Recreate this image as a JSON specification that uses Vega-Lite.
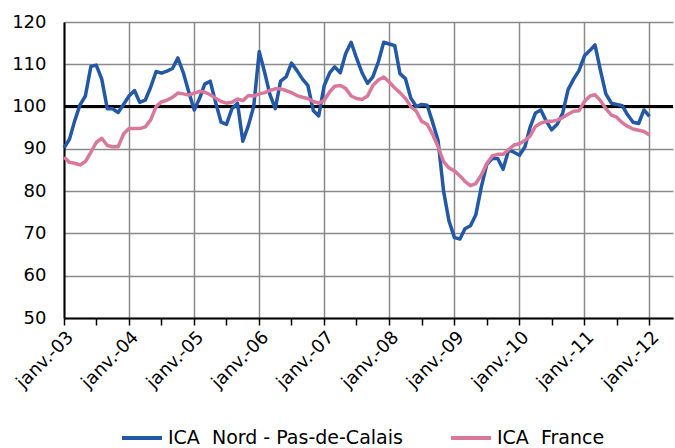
{
  "$schema": "https://vega.github.io/schema/vega-lite/v6.json",
  "width": 609,
  "height": 296,
  "autosize": {"type": "none"},
  "padding": {"left": 64, "top": 22, "right": 2, "bottom": 130},
  "config": {
    "view": {"stroke": null},
    "font": "DejaVu Sans",
    "axisY": {"grid": true, "gridColor": "#8a8a8a", "gridWidth": 1.5, "ticks": false, "labelPadding": 18, "labelFontSize": 18, "labelColor": "#000000", "domainColor": "#000000", "domainWidth": 2}
  },
  "datasets": {
    "ica": [
      {"d":"2003-01-01","nord":90.2,"france":88.0},{"d":"2003-02-01","nord":92.3,"france":86.8},{"d":"2003-03-01","nord":96.5,"france":86.6},{"d":"2003-04-01","nord":100.4,"france":86.2},{"d":"2003-05-01","nord":102.5,"france":87.0},{"d":"2003-06-01","nord":109.5,"france":89.2},{"d":"2003-07-01","nord":109.8,"france":91.5},{"d":"2003-08-01","nord":106.5,"france":92.5},{"d":"2003-09-01","nord":99.5,"france":90.8},{"d":"2003-10-01","nord":99.5,"france":90.5},{"d":"2003-11-01","nord":98.6,"france":90.5},{"d":"2003-12-01","nord":100.5,"france":93.5},
      {"d":"2004-01-01","nord":102.5,"france":94.8},{"d":"2004-02-01","nord":103.8,"france":94.8},{"d":"2004-03-01","nord":101.0,"france":94.8},{"d":"2004-04-01","nord":101.5,"france":95.2},{"d":"2004-05-01","nord":104.5,"france":96.8},{"d":"2004-06-01","nord":108.3,"france":100.0},{"d":"2004-07-01","nord":107.9,"france":101.1},{"d":"2004-08-01","nord":108.4,"france":101.5},{"d":"2004-09-01","nord":109.0,"france":102.2},{"d":"2004-10-01","nord":111.5,"france":103.2},{"d":"2004-11-01","nord":108.0,"france":103.0},{"d":"2004-12-01","nord":103.5,"france":102.7},
      {"d":"2005-01-01","nord":99.2,"france":103.2},{"d":"2005-02-01","nord":102.0,"france":103.6},{"d":"2005-03-01","nord":105.3,"france":103.4},{"d":"2005-04-01","nord":106.0,"france":102.8},{"d":"2005-05-01","nord":101.0,"france":102.0},{"d":"2005-06-01","nord":96.3,"france":101.2},{"d":"2005-07-01","nord":95.8,"france":100.8},{"d":"2005-08-01","nord":99.5,"france":101.0},{"d":"2005-09-01","nord":100.8,"france":101.8},{"d":"2005-10-01","nord":91.8,"france":101.4},{"d":"2005-11-01","nord":95.5,"france":102.6},{"d":"2005-12-01","nord":100.0,"france":102.5},
      {"d":"2006-01-01","nord":113.0,"france":103.0},{"d":"2006-02-01","nord":108.0,"france":103.3},{"d":"2006-03-01","nord":103.0,"france":103.8},{"d":"2006-04-01","nord":99.5,"france":104.2},{"d":"2006-05-01","nord":106.0,"france":104.2},{"d":"2006-06-01","nord":107.0,"france":103.8},{"d":"2006-07-01","nord":110.3,"france":103.3},{"d":"2006-08-01","nord":108.5,"france":102.6},{"d":"2006-09-01","nord":106.5,"france":102.2},{"d":"2006-10-01","nord":105.0,"france":101.9},{"d":"2006-11-01","nord":99.0,"france":101.2},{"d":"2006-12-01","nord":97.8,"france":100.8},
      {"d":"2007-01-01","nord":105.0,"france":101.5},{"d":"2007-02-01","nord":108.0,"france":103.5},{"d":"2007-03-01","nord":109.4,"france":104.8},{"d":"2007-04-01","nord":108.0,"france":105.0},{"d":"2007-05-01","nord":112.5,"france":104.3},{"d":"2007-06-01","nord":115.2,"france":102.5},{"d":"2007-07-01","nord":111.5,"france":101.9},{"d":"2007-08-01","nord":108.0,"france":101.7},{"d":"2007-09-01","nord":105.5,"france":102.5},{"d":"2007-10-01","nord":107.0,"france":105.0},{"d":"2007-11-01","nord":110.6,"france":106.3},{"d":"2007-12-01","nord":115.2,"france":107.0},
      {"d":"2008-01-01","nord":114.8,"france":105.8},{"d":"2008-02-01","nord":114.4,"france":104.4},{"d":"2008-03-01","nord":107.8,"france":103.3},{"d":"2008-04-01","nord":106.6,"france":101.9},{"d":"2008-05-01","nord":102.0,"france":100.0},{"d":"2008-06-01","nord":100.0,"france":98.9},{"d":"2008-07-01","nord":100.5,"france":96.5},{"d":"2008-08-01","nord":100.3,"france":95.8},{"d":"2008-09-01","nord":96.2,"france":93.4},{"d":"2008-10-01","nord":92.0,"france":90.5},{"d":"2008-11-01","nord":80.0,"france":87.0},{"d":"2008-12-01","nord":73.0,"france":85.5},
      {"d":"2009-01-01","nord":69.0,"france":84.8},{"d":"2009-02-01","nord":68.7,"france":83.6},{"d":"2009-03-01","nord":71.1,"france":82.3},{"d":"2009-04-01","nord":71.8,"france":81.3},{"d":"2009-05-01","nord":74.4,"france":81.8},{"d":"2009-06-01","nord":81.0,"france":83.8},{"d":"2009-07-01","nord":86.3,"france":86.5},{"d":"2009-08-01","nord":87.7,"france":88.3},{"d":"2009-09-01","nord":87.7,"france":88.7},{"d":"2009-10-01","nord":85.2,"france":88.7},{"d":"2009-11-01","nord":89.7,"france":89.8},{"d":"2009-12-01","nord":89.2,"france":90.9},
      {"d":"2010-01-01","nord":88.5,"france":91.2},{"d":"2010-02-01","nord":90.5,"france":92.0},{"d":"2010-03-01","nord":95.0,"france":93.0},{"d":"2010-04-01","nord":98.5,"france":95.3},{"d":"2010-05-01","nord":99.2,"france":96.1},{"d":"2010-06-01","nord":96.5,"france":96.5},{"d":"2010-07-01","nord":94.5,"france":96.5},{"d":"2010-08-01","nord":95.8,"france":96.8},{"d":"2010-09-01","nord":98.5,"france":97.4},{"d":"2010-10-01","nord":104.0,"france":98.2},{"d":"2010-11-01","nord":106.5,"france":98.9},{"d":"2010-12-01","nord":108.5,"france":99.0},
      {"d":"2011-01-01","nord":112.0,"france":101.2},{"d":"2011-02-01","nord":113.3,"france":102.5},{"d":"2011-03-01","nord":114.6,"france":102.8},{"d":"2011-04-01","nord":108.5,"france":101.4},{"d":"2011-05-01","nord":103.0,"france":99.5},{"d":"2011-06-01","nord":100.8,"france":98.0},{"d":"2011-07-01","nord":100.5,"france":97.5},{"d":"2011-08-01","nord":100.2,"france":96.2},{"d":"2011-09-01","nord":98.0,"france":95.3},{"d":"2011-10-01","nord":96.3,"france":94.7},{"d":"2011-11-01","nord":96.0,"france":94.4},{"d":"2011-12-01","nord":99.2,"france":94.1},
      {"d":"2012-01-01","nord":97.7,"france":93.3}
    ]
  },
  "layer": [
    {
      "data": {"values": [{}]},
      "mark": {"type": "rule", "color": "#000000", "strokeWidth": 3},
      "encoding": {
        "y": {"datum": 100, "type": "quantitative", "scale": {"domain": [50, 120]}, "title": null,
              "axis": {"values": [50, 60, 70, 80, 90, 100, 110, 120], "grid": true}}
      }
    },
    {
      "data": {"name": "ica"},
      "transform": [{"fold": ["nord", "france"], "as": ["serie", "value"]}],
      "mark": {"type": "line", "strokeWidth": 3.5, "strokeJoin": "round"},
      "encoding": {
        "x": {
          "field": "d",
          "type": "temporal",
          "scale": {"type": "utc", "domain": [{"year": 2003, "month": 1, "date": 1, "utc": true}, {"year": 2012, "month": 5, "date": 12, "utc": true}]},
          "title": null,
          "axis": {
            "tickCount": {"interval": "month", "step": 6},
            "labelExpr": "utcmonth(datum.value) === 0 ? 'janv.-' + utcFormat(datum.value, '%y') : ''",
            "labelAngle": -45,
            "labelFontSize": 18,
            "labelColor": "#000000",
            "labelOverlap": false,
            "labelBound": false,
            "labelFlush": false,
            "labelPadding": 3,
            "tickColor": "#000000",
            "tickSize": 7,
            "tickWidth": 1.5,
            "domainColor": "#000000",
            "domainWidth": 2,
            "gridColor": {"condition": {"test": "utcmonth(datum.value) === 0", "value": "#8a8a8a"}, "value": "transparent"},
            "gridWidth": 1.5
          }
        },
        "y": {
          "field": "value",
          "type": "quantitative",
          "scale": {"domain": [50, 120]},
          "title": null,
          "axis": {"values": [50, 60, 70, 80, 90, 100, 110, 120], "grid": true}
        },
        "color": {
          "field": "serie",
          "type": "nominal",
          "scale": {"domain": ["nord", "france"], "range": ["#2258A6", "#D9789B"]},
          "legend": {
            "orient": "none",
            "legendX": 56,
            "legendY": 394,
            "direction": "horizontal",
            "title": null,
            "symbolType": "stroke",
            "symbolSize": 1600,
            "symbolStrokeWidth": 4,
            "labelFontSize": 19,
            "labelLimit": 500,
            "labelColor": "#000000",
            "labelOffset": 4,
            "columnPadding": 40,
            "labelExpr": "datum.value === 'nord' ? 'ICA\u00a0 Nord - Pas-de-Calais' : 'ICA\u00a0 France'"
          }
        }
      }
    }
  ]
}
